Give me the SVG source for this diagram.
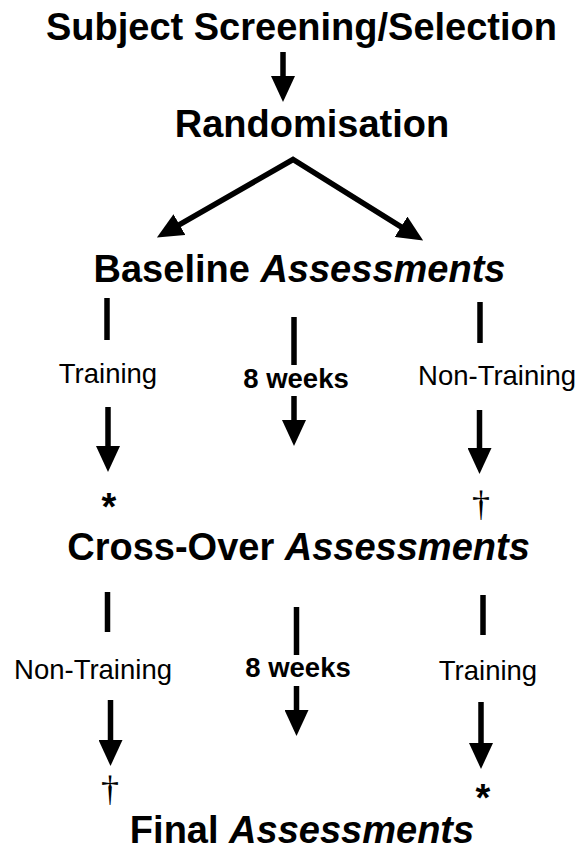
<svg xmlns="http://www.w3.org/2000/svg" width="583" height="850" viewBox="0 0 583 850">
<style>
.h{font-family:"Liberation Sans",Arial,sans-serif;font-weight:bold;font-size:38px;fill:#000;text-anchor:middle}
.it{font-style:italic}
.l{font-family:"Liberation Sans",Arial,sans-serif;font-size:27.5px;fill:#000;text-anchor:middle}
.lb{font-weight:bold}
.sym{font-family:"Liberation Sans",Arial,sans-serif;font-weight:bold;font-size:38px;fill:#000;text-anchor:middle}
.dag{font-family:"Liberation Serif","Times New Roman",serif;font-size:36px;fill:#000;text-anchor:middle}
.c{stroke:#000;stroke-width:5.5;fill:none}
.a{marker-end:url(#ah)}
</style>
<defs>
<marker id="ah" markerUnits="userSpaceOnUse" viewBox="0 0 26 24" refX="1" refY="12" markerWidth="26" markerHeight="24" orient="auto-start-reverse">
<path d="M0,0 L26,12 L0,24 z" fill="#000"/>
</marker>
</defs>
<g id="connectors">
<line class="c a" x1="283" y1="52" x2="283" y2="77"/>
<path class="c" stroke-linejoin="miter" marker-start="url(#ah)" marker-end="url(#ah)" d="M178.6,225.1 L293,159.5 L401.9,227.3"/>
<line class="c" x1="107" y1="298" x2="107" y2="340"/>
<line class="c a" x1="108" y1="407" x2="108" y2="447"/>
<line class="c" x1="294" y1="317" x2="294" y2="365"/>
<line class="c a" x1="294" y1="396" x2="294" y2="421"/>
<line class="c" x1="480" y1="302" x2="480" y2="343"/>
<line class="c a" x1="479.5" y1="410" x2="479.5" y2="449"/>
<line class="c" x1="107.5" y1="592" x2="107.5" y2="632"/>
<line class="c a" x1="110.5" y1="700" x2="110.5" y2="741"/>
<line class="c" x1="296.5" y1="607" x2="296.5" y2="655"/>
<line class="c a" x1="296.5" y1="686" x2="296.5" y2="711"/>
<line class="c" x1="483" y1="595" x2="483" y2="635"/>
<line class="c a" x1="481" y1="702" x2="481" y2="744"/>
</g>
<g id="screening"><text class="h" x="301.5" y="40">Subject Screening/Selection</text></g>
<g id="randomisation"><text class="h" x="312" y="137">Randomisation</text></g>
<g id="baseline"><text class="h" x="299.5" y="282">Baseline <tspan class="it">Assessments</tspan></text></g>
<g id="crossover"><text class="h" x="298.5" y="560">Cross-Over <tspan class="it">Assessments</tspan></text></g>
<g id="final"><text class="h" x="302" y="843">Final <tspan class="it">Assessments</tspan></text></g>
<g id="label-training-1"><text class="l" x="108" y="383">Training</text></g>
<g id="label-weeks-1"><text class="l lb" x="296" y="388">8 weeks</text></g>
<g id="label-nontraining-1"><text class="l" x="497" y="385">Non-Training</text></g>
<g id="label-nontraining-2"><text class="l" x="93" y="679">Non-Training</text></g>
<g id="label-weeks-2"><text class="l lb" x="298" y="677">8 weeks</text></g>
<g id="label-training-2"><text class="l" x="488" y="680">Training</text></g>
<g id="mark-star-1"><text class="sym" x="109" y="520">*</text></g>
<g id="mark-dagger-1"><text class="dag" x="481" y="516">†</text></g>
<g id="mark-dagger-2"><text class="dag" x="110" y="801">†</text></g>
<g id="mark-star-2"><text class="sym" x="483" y="811">*</text></g>
</svg>
